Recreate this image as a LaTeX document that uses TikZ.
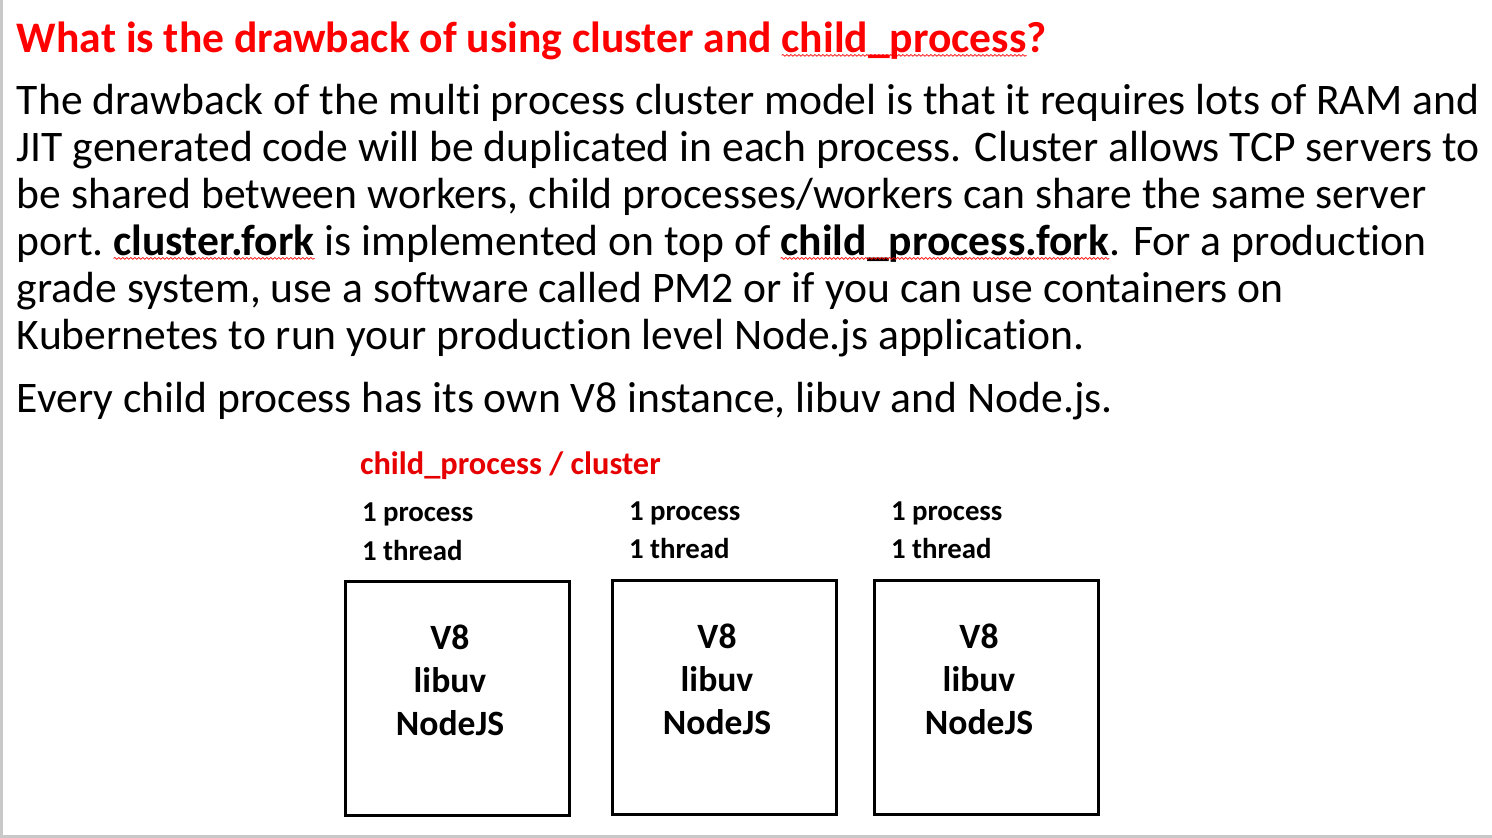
\documentclass[tikz,border=0pt]{standalone}
\usepackage{fontspec}
\setmainfont{Carlito}[Ligatures=NoCommon]
\usetikzlibrary{decorations.pathmorphing}
\definecolor{titlered}{RGB}{255,0,0}
\definecolor{labelred}{RGB}{230,0,0}
\definecolor{edgegray}{RGB}{200,200,200}
\tikzset{
  txt/.style={inner sep=0pt, outer sep=0pt, anchor=base west},
  body/.style={txt, font=\fontsize{21.8}{26}\selectfont},
  bodyb/.style={txt, font=\fontsize{21.8}{26}\selectfont\bfseries},
  ttl/.style={txt, font=\fontsize{21.8}{26}\selectfont\bfseries, text=titlered},
  wavy/.style={draw=red, line width=0.35pt, decorate, decoration={snake, amplitude=0.45pt, segment length=2pt}},
  lbl/.style={txt, font=\fontsize{16.2}{19}\selectfont\bfseries},
  proc/.style={txt, font=\fontsize{14.4}{17}\selectfont\bfseries},
  procbox/.style={draw, line width=1.5pt, minimum width=112pt, minimum height=117pt, inner sep=0pt, anchor=north west},
  inbox/.style={inner sep=0pt, anchor=base, font=\fontsize{17.8}{21}\selectfont\bfseries},
}
\begin{document}
\begin{tikzpicture}[x=0.5pt, y=-0.5pt]
\useasboundingbox (0,0) rectangle (1492,838);
\fill[white] (0,0) rectangle (1492,838);
\fill[edgegray] (0,0) rectangle (3,838);
\fill[edgegray] (0,835) rectangle (1492,838);

% title
\node[ttl] (t1) at (17,53) {What is the drawback of using cluster and~\null};
\node[ttl] (t2) at (t1.base east) {child\_process};
\node[ttl] (t3) at (t2.base east) {?};
\draw[wavy] ([yshift=-1.2pt]t2.base west) -- ([yshift=-1.2pt]t2.base east);

% body
\node[body] (b1) at (17,115) {The drawback of the multi process cluster model is that it requires lots of RAM and};
\node[body] (b2) at (17,162) {JIT generated code will be duplicated in each process. Cluster allows TCP servers to};
\node[body] (b3) at (17,209) {be shared between workers, child processes/workers can share the same server};
\node[body] (b4a) at (17,256) {port.~\null};
\node[bodyb] (b4b) at (b4a.base east) {cluster.fork};
\node[body] (b4c) at (b4b.base east) {\null~is implemented on top of~\null};
\node[bodyb] (b4d) at (b4c.base east) {child\_process.fork};
\node[body] (b4e) at (b4d.base east) {. For a production};
\draw[wavy] ([yshift=-1.2pt]b4b.base west) -- ([yshift=-1.2pt]b4b.base east);
\draw[wavy] ([yshift=-1.2pt]b4d.base west) -- ([yshift=-1.2pt]b4d.base east);
\node[body] (b5) at (17,303) {grade system, use a software called PM2 or if you can use containers on};
\node[body] (b6) at (17,350) {Kubernetes to run your production level Node.js application.};
\node[body] (b7) at (17,413) {Every child process has its own V8 instance, libuv and Node.js.};

% diagram
\node[lbl, text=labelred] (cap) at (360,475) {child\_process / cluster};

\node[proc] (p1) at (362,522) {1 process};
\node[proc] (h1) at (362,560) {1 thread};
\node[proc] (p2) at (629,521) {1 process};
\node[proc] (h2) at (629,559) {1 thread};
\node[proc] (p3) at (891,521) {1 process};
\node[proc] (h3) at (891,559) {1 thread};

\node[procbox] (box1) at (344,580) {};
\node[procbox] (box2) at (611,579) {};
\node[procbox] (box3) at (873,579) {};

\node[inbox] (v1) at (450,649) {V8};
\node[inbox] (l1) at (450,692) {libuv};
\node[inbox] (n1) at (450,735) {NodeJS};
\node[inbox] (v2) at (717,648) {V8};
\node[inbox] (l2) at (717,691) {libuv};
\node[inbox] (n2) at (717,734) {NodeJS};
\node[inbox] (v3) at (979,648) {V8};
\node[inbox] (l3) at (979,691) {libuv};
\node[inbox] (n3) at (979,734) {NodeJS};
\end{tikzpicture}
\end{document}
